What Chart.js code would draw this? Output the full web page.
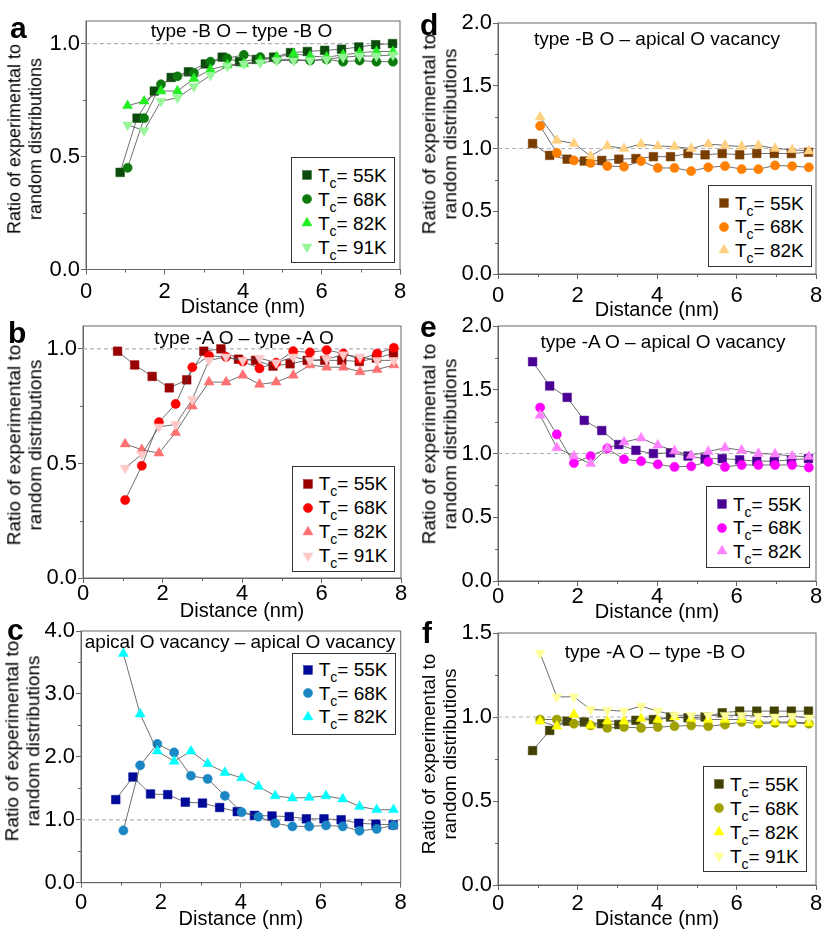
<!DOCTYPE html>
<html><head><meta charset="utf-8">
<script src="https://cdn.jsdelivr.net/npm/chart.js@4.4.0/dist/chart.umd.min.js"></script>
<style>
html,body{margin:0;padding:0;background:#fff;}
body{width:830px;height:929px;position:relative;overflow:hidden;font-family:'Liberation Sans',Arial,sans-serif;color:#000;}
canvas{position:absolute;}
.ctr{position:absolute;white-space:nowrap;line-height:1;font-size:19px;transform:translate(-50%,-50%);}
.letter{position:absolute;white-space:nowrap;line-height:1;font-size:30px;font-weight:bold;}
.ytitle{position:absolute;white-space:nowrap;font-size:19px;line-height:20.7px;text-align:center;transform:translate(-50%,-50%) rotate(-90deg);}
.legend{position:absolute;border:1px solid #333;background:#fff;box-sizing:border-box;}
.lrow{position:absolute;white-space:nowrap;font-size:19px;line-height:1;}
.lrow sub{font-size:14px;vertical-align:-6px;line-height:0;}
svg.mk{position:absolute;overflow:visible;}
</style></head><body>
<script>
// ---------------- DATA ----------------
const dist55 = [0.87,1.30,1.74,2.17,2.61,3.04,3.47,3.91,4.34,4.78,5.21,5.64,6.08,6.51,6.95,7.38,7.81];
const distOther = [1.06,1.48,1.91,2.33,2.75,3.17,3.60,4.02,4.44,4.86,5.29,5.71,6.13,6.55,6.97,7.40,7.82];
const tcLabels = ['55K','68K','82K','91K'];
const refLineX = [0, 8];
const refLineY = [1, 1];
const xTickValues = [0,1,2,3,4,5,6,7,8];
const xTickLabels = [0, 2, 4, 6, 8];

// a: type-B O – type-B O
const a55 = [0.43,0.67,0.79,0.85,0.875,0.91,0.94,0.92,0.93,0.94,0.96,0.965,0.97,0.975,0.985,0.995,1.0];
const a68 = [0.45,0.67,0.82,0.855,0.87,0.92,0.935,0.95,0.94,0.93,0.93,0.925,0.93,0.92,0.925,0.92,0.92];
const a82 = [0.725,0.745,0.79,0.79,0.845,0.885,0.905,0.91,0.925,0.94,0.955,0.945,0.94,0.95,0.96,0.965,0.965];
const a91 = [0.64,0.615,0.745,0.76,0.81,0.86,0.90,0.91,0.915,0.925,0.925,0.925,0.93,0.94,0.945,0.945,0.95];
// b: type-A O – type-A O
const b55 = [0.99,0.93,0.88,0.83,0.865,0.99,1.0,0.955,0.95,0.925,0.935,0.95,0.95,0.95,0.945,0.96,0.98];
const b68 = [0.34,0.49,0.68,0.76,0.92,0.97,0.965,0.945,0.915,0.94,0.99,0.985,0.995,0.98,0.955,0.98,1.005];
const b82 = [0.585,0.56,0.545,0.635,0.75,0.855,0.855,0.885,0.845,0.855,0.885,0.93,0.92,0.92,0.90,0.91,0.93];
const b91 = [0.48,0.54,0.66,0.67,0.78,0.95,0.965,0.95,0.96,0.94,0.965,0.95,0.955,0.975,0.965,0.95,0.95];
// c: apical O vacancy – apical O vacancy
const c55 = [1.32,1.68,1.41,1.40,1.28,1.265,1.195,1.13,1.07,1.06,1.05,1.015,1.015,1.0,0.945,0.93,0.92];
const c68 = [0.83,1.865,2.205,2.07,1.70,1.65,1.38,1.12,1.05,0.945,0.895,0.895,0.91,0.895,0.825,0.855,0.91];
const c82 = [3.64,2.68,2.09,1.93,2.09,1.89,1.75,1.665,1.53,1.38,1.345,1.355,1.38,1.33,1.21,1.16,1.16];
// d: type-B O – apical O vacancy
const d55 = [1.04,0.945,0.915,0.90,0.905,0.915,0.92,0.935,0.935,0.96,0.95,0.96,0.95,0.96,0.96,0.96,0.97];
const d68 = [1.18,0.965,0.905,0.885,0.86,0.855,0.90,0.845,0.845,0.82,0.85,0.86,0.835,0.835,0.865,0.86,0.85];
const d82 = [1.25,1.065,1.04,0.94,1.02,1.0,1.035,1.02,1.015,1.0,1.035,1.025,1.015,1.025,1.0,0.99,0.98];
// e: type-A O – apical O vacancy
const e55 = [1.72,1.53,1.44,1.26,1.18,1.07,1.025,1.0,1.005,0.98,0.96,0.96,0.95,0.94,0.94,0.95,0.96];
const e68 = [1.36,1.15,0.925,0.98,1.04,0.955,0.94,0.915,0.895,0.90,0.935,0.895,0.91,0.91,0.91,0.91,0.89];
const e82 = [1.30,1.045,0.98,0.92,1.04,1.09,1.12,1.065,1.02,0.985,1.015,1.045,1.025,1.0,0.995,0.98,0.975];
// f: type-A O – type-B O
const f55 = [0.80,0.92,0.975,0.97,0.96,0.955,0.98,0.985,1.0,0.995,1.0,1.025,1.035,1.035,1.035,1.035,1.035];
const f68 = [0.985,0.985,0.96,0.95,0.935,0.94,0.935,0.94,0.945,0.95,0.945,0.955,0.97,0.96,0.965,0.965,0.96];
const f82 = [0.975,0.945,1.015,0.95,0.975,0.975,0.99,0.985,1.0,0.99,0.985,0.985,0.985,0.97,0.97,0.97,0.965];
const f91 = [1.38,1.12,1.12,1.045,1.04,1.035,1.065,1.035,1.01,1.01,1.01,1.01,1.01,1.005,1.0,1.005,0.995];

// ---------------- STYLE / LAYOUT ----------------
const FONT = "'Liberation Sans', Arial, sans-serif";
Chart.defaults.font.family = FONT;
Chart.defaults.color = '#000';
const AXIS = '#666';
const MARKERS = [
  {style:'rect', r:6.1, rot:0},
  {style:'circle', r:4.6, rot:0},
  {style:'triangle', r:5.8, rot:0},
  {style:'triangle', r:5.8, rot:180}
];

const PANELS = [
  {letter:'a', col:0, L:86, T:20.7, R:400, B:269.5, ymax:1.1, ystep:0.25, ylab:0.5, tickC:292, titleC:307,
   series:[a55,a68,a82,a91], colors:['#0a4a0a','#0d7a0d','#22ee22','#99f599'],
   title:'type -B O – type -B O', tpos:[241.5,30], leg:{l:291,t:157,w:104,h:106,first:17,sp:24},
   yt:[25.3,139], ytSize:18, lpos:[10,38]},
  {letter:'b', col:0, L:83, T:325.7, R:401, B:578, ymax:1.1, ystep:0.25, ylab:0.5, tickC:594, titleC:611,
   series:[b55,b68,b82,b91], colors:['#990000','#ff0000','#ff7070','#ffc8c8'],
   title:'type -A O – type -A O', tpos:[244,337], leg:{l:291.7,t:465.7,w:103.3,h:106,first:17,sp:24},
   yt:[25,445], ytSize:19, lpos:[8,343]},
  {letter:'c', col:0, L:81, T:631, R:400.7, B:882.7, ymax:4.0, ystep:0.5, ylab:1, tickC:903, titleC:919,
   series:[c55,c68,c82], colors:['#000a99','#1a87c4','#00ffff'],
   title:'apical O vacancy – apical O vacancy', tpos:[240,641], leg:{l:291.7,t:652.7,w:104,h:82.3,first:16,sp:23.5},
   yt:[23.3,741], ytSize:19, lpos:[7,640]},
  {letter:'d', col:1, L:498, T:22.7, R:816, B:274, ymax:2.0, ystep:0.25, ylab:0.5, tickC:296, titleC:310,
   series:[d55,d68,d82], colors:['#7a3d00','#ff8000','#ffd080'],
   title:'type -B O – apical O vacancy', tpos:[657,38], leg:{l:708,t:185,w:103.7,h:82,first:17,sp:23.5},
   yt:[439.5,134], ytSize:19, lpos:[420,35]},
  {letter:'e', col:1, L:498, T:325.7, R:816, B:581, ymax:2.0, ystep:0.25, ylab:0.5, tickC:597, titleC:612,
   series:[e55,e68,e82], colors:['#4b0095','#ff00ff','#ff80ff'],
   title:'type -A O – apical O vacancy', tpos:[663,341], leg:{l:706,t:486,w:104,h:82,first:17,sp:23.5},
   yt:[440,444], ytSize:19, lpos:[420,337]},
  {letter:'f', col:1, L:498, T:632.7, R:816, B:885, ymax:1.5, ystep:0.25, ylab:0.5, tickC:904, titleC:919,
   series:[f55,f68,f82,f91], colors:['#404000','#a0a000','#ffff00','#ffff99'],
   title:'type -A O – type -B O', tpos:[655,651], leg:{l:703,t:766,w:103.7,h:106,first:17,sp:24},
   yt:[439.5,754], ytSize:19, lpos:[422,643]}
];

function isMult(v, m){ const q = v/m; return Math.abs(q - Math.round(q)) < 1e-6; }

// frame around the plot area + short minor ticks
const framePlugin = {
  id:'frame',
  beforeDatasetsDraw(chart){
    const {ctx, chartArea:{left,top,right,bottom}} = chart;
    ctx.save();
    ctx.strokeStyle = AXIS; ctx.lineWidth = 1;
    ctx.strokeRect(left, top, right-left, bottom-top);
    ctx.restore();
  },
  afterDraw(chart, args, opts){
    const {ctx, chartArea:{left,bottom}} = chart;
    const xs = chart.scales.x, ys = chart.scales.y;
    ctx.save();
    ctx.strokeStyle = AXIS; ctx.lineWidth = 1;
    ctx.beginPath();
    ys.ticks.forEach(t => {
      if (!isMult(t.value, opts.ylab)) {
        const py = Math.round(ys.getPixelForValue(t.value)) + 0.5;
        ctx.moveTo(left - 3, py); ctx.lineTo(left, py);
      }
    });
    xs.ticks.forEach(t => {
      if (!xTickLabels.includes(t.value)) {
        const px = Math.round(xs.getPixelForValue(t.value)) + 0.5;
        ctx.moveTo(px, bottom); ctx.lineTo(px, bottom + 3);
      }
    });
    ctx.stroke();
    ctx.restore();
  }
};

function addDiv(cls, html, css){
  const d = document.createElement('div');
  d.className = cls; d.innerHTML = html;
  Object.assign(d.style, css);
  document.body.appendChild(d);
  return d;
}

function markerSVG(m, color, cx, cy){
  let shape;
  if (m.style === 'rect') { const s = m.r*Math.SQRT1_2; shape = `<rect x="${-s}" y="${-s}" width="${2*s}" height="${2*s}"/>`; }
  else if (m.style === 'circle') { shape = `<circle r="${m.r}"/>`; }
  else {
    const r = m.r, w = r*0.866, sgn = m.rot ? -1 : 1;
    shape = `<polygon points="0,${-sgn*r} ${w},${sgn*r/2} ${-w},${sgn*r/2}"/>`;
  }
  return `<svg class="mk" width="1" height="1" style="left:${cx}px;top:${cy}px"><g fill="${color}" stroke="${color}" stroke-width="0.5">${shape}</g></svg>`;
}

PANELS.forEach(p => {
  const cx = p.col === 0 ? 0 : 415;
  const cw = 415;
  const top = p.T - 20;
  const bottom = p.titleC + 12;
  const ch = bottom - top;
  const cv = document.createElement('canvas');
  cv.width = cw; cv.height = ch;
  cv.style.left = cx + 'px'; cv.style.top = top + 'px';
  cv.style.width = cw + 'px'; cv.style.height = ch + 'px';
  document.body.appendChild(cv);

  const yW = p.L - cx;
  const xH = bottom - p.B;
  const tickPad = Math.max(0, p.tickC - p.B - 5 - 11);

  const datasets = [];
  const n = p.series.length;
  p.series.forEach((vals, i) => {
    const xs = i === 0 ? dist55 : distOther;
    const m = MARKERS[i];
    datasets.push({
      label: 'Tc= ' + tcLabels[i],
      data: xs.map((x, k) => ({x, y: vals[k]})),
      showLine: true,
      borderColor: '#4a4a4a',
      borderWidth: 0.8,
      pointStyle: m.style,
      pointRadius: m.r,
      pointRotation: m.rot,
      pointBackgroundColor: p.colors[i],
      pointBorderColor: p.colors[i],
      pointBorderWidth: 0.5,
      clip: false,
      order: n - i
    });
  });
  datasets.push({
    label: 'ref',
    data: refLineX.map((x, k) => ({x, y: refLineY[k]})),
    showLine: true,
    borderColor: '#b0b0b0',
    borderWidth: 1.2,
    borderDash: [4, 3],
    pointRadius: 0,
    order: 100
  });

  new Chart(cv, {
    type: 'scatter',
    data: {datasets},
    options: {
      responsive: false,
      animation: false,
      devicePixelRatio: 1,
      layout: {padding: {top: p.T - top, right: cx + cw - p.R, left: 0, bottom: 0}},
      plugins: {legend: {display: false}, tooltip: {enabled: false}, frame: {ylab: p.ylab}},
      scales: {
        x: {
          type: 'linear', min: 0, max: 8,
          afterBuildTicks: s => { s.ticks = xTickValues.map(v => ({value: v})); },
          ticks: {
            callback: v => xTickLabels.includes(v) ? String(v) : '',
            font: {size: 22, lineHeight: 1}, color: '#000', padding: tickPad,
            maxRotation: 0, autoSkip: false
          },
          grid: {drawOnChartArea: false, drawTicks: true, tickLength: 5, tickWidth: 1,
                 tickColor: c => (c.tick && xTickLabels.includes(c.tick.value)) ? AXIS : 'rgba(0,0,0,0)'},
          border: {display: true, color: AXIS, width: 1},
          title: {display: true, text: 'Distance (nm)', color: '#000', font: {size: 20, lineHeight: 1}, padding: {top: 0, bottom: 2}},
          afterFit: s => { s.height = xH; }
        },
        y: {
          type: 'linear', min: 0, max: p.ymax,
          ticks: {
            stepSize: p.ystep, includeBounds: false, autoSkip: false,
            callback: v => isMult(v, p.ylab) ? v.toFixed(1) : '',
            font: {size: 22, lineHeight: 1}, color: '#000', padding: 1
          },
          grid: {drawOnChartArea: false, drawTicks: true, tickLength: 5, tickWidth: 1,
                 tickColor: c => (c.tick && isMult(c.tick.value, p.ylab)) ? AXIS : 'rgba(0,0,0,0)'},
          border: {display: true, color: AXIS, width: 1},
          afterFit: s => { s.width = yW; }
        }
      }
    },
    plugins: [framePlugin]
  });

  // panel letter
  addDiv('letter', p.letter, {left: p.lpos[0] + 'px', top: (p.lpos[1] - 25.4) + 'px'});
  // inner title
  addDiv('ctr', p.title, {left: p.tpos[0] + 'px', top: p.tpos[1] + 'px'});
  // y-axis title
  addDiv('ytitle', 'Ratio of experimental to<br>random distributions',
         {left: p.yt[0] + 'px', top: p.yt[1] + 'px', fontSize: p.ytSize + 'px'});
  // legend
  const lg = p.leg;
  let html = '';
  p.series.forEach((_, i) => {
    const cy = lg.first + lg.sp * i;
    html += markerSVG(MARKERS[i], p.colors[i], 15, cy);
    html += `<div class="lrow" style="left:26px;top:${cy - 9.3}px">T<sub>c</sub>= ${tcLabels[i]}</div>`;
  });
  addDiv('legend', html, {left: lg.l + 'px', top: lg.t + 'px', width: lg.w + 'px', height: lg.h + 'px'});
});
</script>
</body></html>
